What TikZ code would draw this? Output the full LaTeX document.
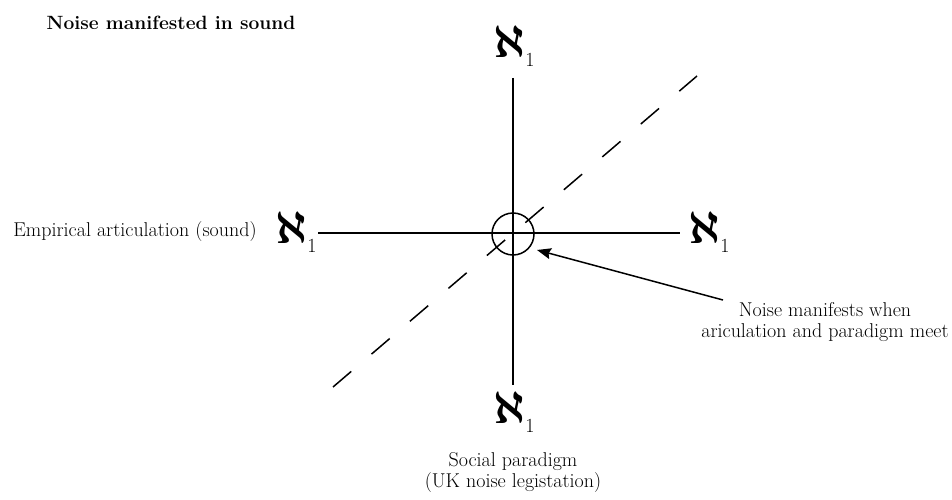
\documentclass[tikz,border=0pt]{standalone}
\usepackage{amsmath}
\usepackage{graphicx}
\usetikzlibrary{arrows.meta}
\begin{document}
\begin{tikzpicture}[x=1pt,y=-1pt,
  ln/.style={line width=1.5pt},
  dsh/.style={line width=1.5pt,dash pattern=on 24pt off 26.6pt},
  lbl/.style={inner sep=0pt,font=\fontsize{20}{21}\selectfont},
  alef/.style={inner sep=0pt,anchor=base west,font=\fontsize{20}{20}\selectfont}]
\useasboundingbox (0,0) rectangle (952,500);
\newcommand{\alefone}{\scalebox{2.2}{$\boldsymbol{\aleph}$}\raisebox{-9pt}{1}}
% title
\node[lbl,font=\fontsize{19.2}{21}\selectfont\bfseries] (title) at (171,23) {Noise manifested in sound};
% alephs
\node[alef] (ta) at (493,58) {\alefone};
\node[alef] (la) at (275,243) {\alefone};
\node[alef] (ra) at (688,243) {\alefone};
\node[alef] (ba) at (493,423) {\alefone};
% axes
\coordinate (vt) at (513,78);
\coordinate (vb) at (513,385);
\coordinate (hl) at (318,233);
\coordinate (hr) at (680,233);
\coordinate (dl) at (333,387);
\coordinate (dr) at (697,76);
\draw[ln] (vt) -- (vb);
\draw[ln] (hl) -- (hr);
\draw[dsh] (dl) -- (dr);
\node[ln,draw,circle,minimum size=42pt,inner sep=0pt] (c) at (513,234) {};
% labels
\node[lbl] (emp) at (135,232) {Empirical articulation (sound)};
\node[lbl,align=center] (note) at (825,322) {Noise manifests when\\ariculation and paradigm meet};
\node[lbl,align=center] (soc) at (513,473) {Social paradigm\\(UK noise legistation)};
\coordinate (ae) at (723,300);
\coordinate (at) at (537,250);
\draw[ln,-{Stealth[length=14pt,width=11pt,inset=2pt]}] (ae) -- (at);
\end{tikzpicture}
\end{document}
